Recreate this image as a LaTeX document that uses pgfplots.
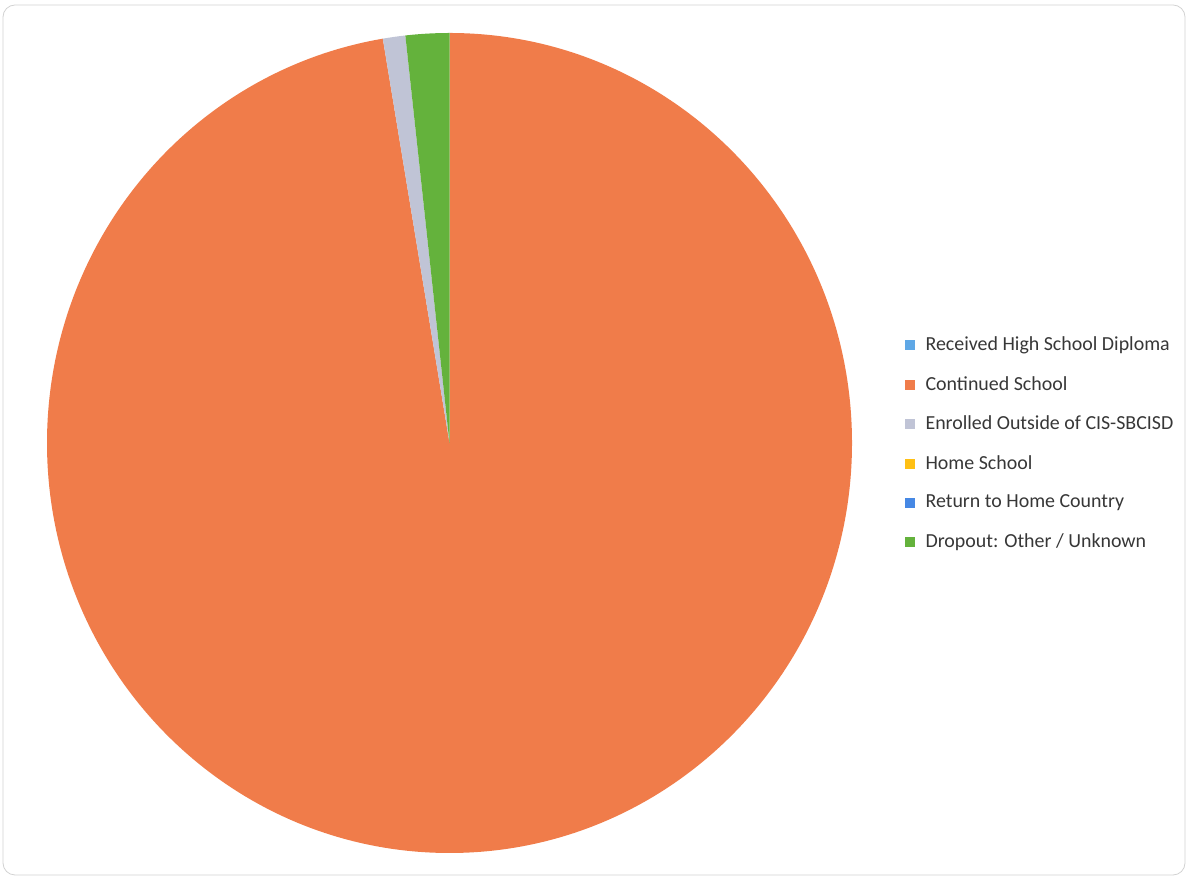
\documentclass[border=0pt]{standalone}
\usepackage{pgfplots}
\usepackage{pgfplotstable}
\pgfplotsset{compat=1.18}
\usepackage{fontspec}
\setmainfont{Carlito}
\definecolor{cDiploma}{RGB}{95,168,230}
\definecolor{cCont}{RGB}{240,124,74}
\definecolor{cEnr}{RGB}{192,196,214}
\definecolor{cHome}{RGB}{255,192,20}
\definecolor{cRet}{RGB}{70,136,228}
\definecolor{cDrop}{RGB}{100,178,60}
\definecolor{txt}{RGB}{55,55,55}
\pgfplotstableread{
label value
Diploma 0
Continued 97.35
Enrolled 0.9
Home 0
Return 0
Dropout 1.75
}\piedata
\begin{document}
\begin{tikzpicture}[x=1bp,y=1bp]
\path (0,0) rectangle (1188,878);
\draw[gray!35, line width=0.8bp, rounded corners=12bp] (3,3) rectangle (1185,873);
% cumulative angles, clockwise from 12 o'clock
\pgfplotstablegetelem{0}{value}\of\piedata \pgfmathsetmacro\aA{90-3.6*\pgfplotsretval}
\pgfplotstablegetelem{1}{value}\of\piedata \pgfmathsetmacro\aB{\aA-3.6*\pgfplotsretval}
\pgfplotstablegetelem{2}{value}\of\piedata \pgfmathsetmacro\aC{\aB-3.6*\pgfplotsretval}
\pgfplotstablegetelem{3}{value}\of\piedata \pgfmathsetmacro\aD{\aC-3.6*\pgfplotsretval}
\pgfplotstablegetelem{4}{value}\of\piedata \pgfmathsetmacro\aE{\aD-3.6*\pgfplotsretval}
\pgfplotstablegetelem{5}{value}\of\piedata \pgfmathsetmacro\aF{\aE-3.6*\pgfplotsretval}
\begin{axis}[
  at={(47bp,25bp)}, anchor=south west,
  scale only axis, width=805bp, height=820bp,
  xmin=-1, xmax=1, ymin=-1, ymax=1,
  hide axis, clip=false,
  legend style={at={(1.066,0.5)}, anchor=west, draw=none, fill=none,
    font=\fontsize{20}{24}\selectfont\color{txt}, row sep=20.2bp,
    inner sep=0pt, cells={anchor=west}},
  legend image code/.code={\fill[#1] (0bp,-4.6bp) rectangle (9bp,4.4bp);\path[draw=none,fill=none] (0bp,0bp) -- (18bp,0bp);},
]
\fill[cCont] (axis cs:0,0) -- (axis cs:{cos(\aA)},{sin(\aA)}) arc[start angle=\aA, end angle=\aB, x radius=402.5bp, y radius=410bp] -- cycle;
\fill[cEnr] (axis cs:0,0) -- (axis cs:{cos(\aB)},{sin(\aB)}) arc[start angle=\aB, end angle=\aC, x radius=402.5bp, y radius=410bp] -- cycle;
\fill[cDrop] (axis cs:0,0) -- (axis cs:{cos(\aE)},{sin(\aE)}) arc[start angle=\aE, end angle=\aF, x radius=402.5bp, y radius=410bp] -- cycle;
\addlegendimage{cDiploma}\addlegendentry{Received High School Diploma}
\addlegendimage{cCont}\addlegendentry{Continued School}
\addlegendimage{cEnr}\addlegendentry{Enrolled Outside of CIS-SBCISD}
\addlegendimage{cHome}\addlegendentry{Home School}
\addlegendimage{cRet}\addlegendentry{Return to Home Country}
\addlegendimage{cDrop}\addlegendentry{Dropout: Other / Unknown}
\end{axis}
\end{tikzpicture}
\end{document}
